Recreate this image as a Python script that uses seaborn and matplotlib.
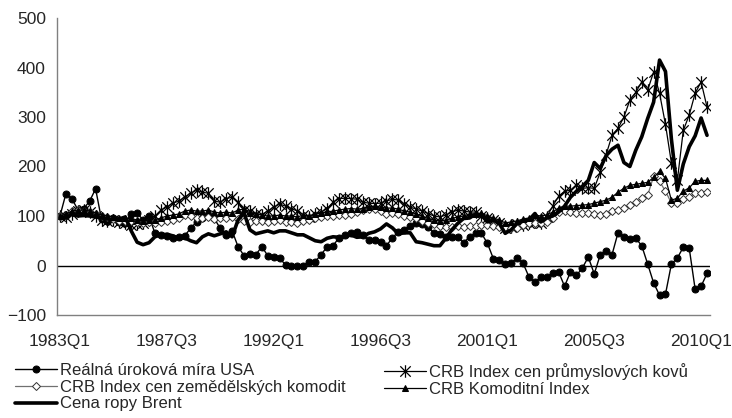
import numpy as np
import pandas as pd
import matplotlib
matplotlib.use('Agg')
import matplotlib.pyplot as plt
from matplotlib.path import Path
import seaborn as sns

# čtvrtletní řady 1983Q1 - 2010Q2, index 1983Q1 = 100
quarters = [f'{1983 + i // 4}Q{i % 4 + 1}' for i in range(110)]

realna_urokova_mira = [
    100, 145, 135, 113, 115, 130, 155, 93, 90, 95, 88, 85,
    105, 106, 92, 100, 65, 62, 60, 55, 58, 60, 75, 88,
    95, 100, 95, 75, 62, 70, 38, 20, 23, 22, 38, 20,
    17, 15, 1, 0, -2, 0, 8, 8, 22, 38, 40, 56,
    61, 65, 68, 61, 52, 52, 48, 40, 56, 68, 72, 80,
    86, 83, 78, 65, 63, 57, 58, 57, 46, 58, 65, 65,
    45, 14, 11, 3, 5, 15, 5, -23, -34, -23, -23, -16,
    -13, -42, -13, -20, -5, 17, -17, 21, 30, 22, 66, 58,
    53, 55, 40, 3, -35, -60, -58, 3, 15, 37, 35, -48,
    -42, -16,
]

kovy = [
    100, 98, 105, 110, 112, 108, 100, 92, 90, 92, 88, 86,
    82, 84, 86, 92, 100, 112, 118, 126, 130, 138, 146, 152,
    148, 146, 130, 128, 135, 138, 128, 112, 110, 105, 103, 110,
    118, 124, 120, 115, 110, 102, 98, 105, 108, 115, 128, 135,
    136, 135, 134, 128, 126, 125, 126, 130, 134, 132, 124, 118,
    114, 110, 105, 100, 98, 102, 108, 112, 110, 108, 108, 100,
    95, 92, 85, 76, 78, 84, 82, 85, 88, 86, 98, 120,
    140, 150, 152, 162, 156, 157, 156, 188, 224, 263, 277, 300,
    334, 350, 371, 354, 391, 348, 285, 207, 172, 273, 304, 348,
    371, 320,
]

zemedelske = [
    100, 102, 110, 112, 110, 108, 104, 100, 98, 94, 90, 90,
    90, 88, 86, 88, 86, 88, 90, 92, 95, 102, 100, 96,
    96, 97, 94, 95, 96, 97, 94, 90, 88, 90, 90, 88,
    90, 92, 88, 88, 86, 90, 92, 95, 98, 100, 100, 102,
    102, 104, 108, 112, 115, 114, 110, 105, 106, 105, 100, 97,
    95, 90, 86, 84, 80, 78, 78, 80, 78, 80, 80, 82,
    82, 80, 78, 78, 76, 76, 82, 86, 86, 85, 88, 96,
    108, 110, 108, 106, 106, 107, 105, 102, 104, 110, 112, 116,
    122, 128, 136, 142, 180, 170, 150, 126, 126, 134, 138, 146,
    146, 148,
]

crb = [
    100, 104, 110, 112, 112, 110, 106, 102, 100, 98, 95, 96,
    95, 92, 90, 92, 92, 96, 100, 102, 104, 110, 112, 110,
    110, 112, 108, 106, 108, 106, 112, 114, 106, 104, 102, 100,
    100, 102, 100, 100, 98, 102, 100, 104, 106, 108, 110, 112,
    114, 115, 114, 115, 118, 120, 118, 116, 116, 114, 110, 108,
    104, 100, 95, 92, 90, 92, 95, 98, 100, 104, 104, 106,
    100, 96, 92, 86, 88, 90, 94, 96, 102, 100, 102, 108,
    116, 120, 120, 121, 122, 123, 126, 129, 132, 138, 148, 156,
    162, 164, 166, 168, 178, 190, 176, 132, 136, 150, 157, 170,
    172, 172,
]

ropa_brent = [
    100, 96, 104, 100, 101, 100, 98, 96, 94, 93, 94, 98,
    70, 47, 42, 46, 58, 62, 63, 60, 55, 56, 50, 46,
    58, 64, 60, 64, 68, 58, 92, 106, 72, 64, 67, 70,
    66, 70, 70, 66, 62, 62, 56, 50, 48, 55, 58, 57,
    58, 62, 57, 58, 65, 68, 74, 84, 76, 64, 66, 66,
    48, 46, 43, 40, 40, 55, 72, 85, 95, 96, 104, 102,
    88, 92, 85, 65, 72, 85, 90, 92, 105, 88, 96, 100,
    108, 120, 138, 150, 160, 172, 208, 196, 222, 235, 243, 208,
    200, 233, 260, 297, 330, 415, 392, 255, 152, 205, 240, 262,
    298, 263,
]

tick_labels = ['1983Q1', '1987Q3', '1992Q1', '1996Q3', '2001Q1', '2005Q3', '2010Q1']

names = ['Reálná úroková míra USA', 'CRB Index cen průmyslových kovů',
         'CRB Index cen zemědělských komodit', 'CRB Komoditní Index',
         'Cena ropy Brent']

df = pd.DataFrame({'t': np.arange(len(quarters)),
                   names[0]: realna_urokova_mira, names[1]: kovy,
                   names[2]: zemedelske, names[3]: crb, names[4]: ropa_brent})

# hvezdicka jako v Excelu: X + svisla cara
star = Path([(-1, -1), (1, 1), (-1, 1), (1, -1), (0, -1.2), (0, 1.2)],
            [Path.MOVETO, Path.LINETO, Path.MOVETO, Path.LINETO, Path.MOVETO, Path.LINETO])

sns.set_style('white')
plt.rcParams['font.family'] = ['Liberation Sans', 'DejaVu Sans']

fig = plt.figure(figsize=(7.32, 4.18), dpi=100)
ax = fig.add_axes([57 / 732, 1 - 315 / 418, 653 / 732, 297 / 418])

ax.axhline(0, color='black', lw=1, zorder=1)

sns.lineplot(data=df, x='t', y=names[0], ax=ax, color='black', lw=1,
             marker='o', markersize=5, markeredgecolor='black', label=names[0])
sns.lineplot(data=df, x='t', y=names[1], ax=ax, color='black', lw=0.9,
             marker=star, markersize=9, markeredgecolor='black',
             markeredgewidth=0.9, label=names[1])
sns.lineplot(data=df, x='t', y=names[2], ax=ax, color='#707070', lw=0.9,
             marker='D', markersize=3.6, markerfacecolor='white',
             markeredgecolor='#303030', markeredgewidth=0.7, label=names[2])
sns.lineplot(data=df, x='t', y=names[3], ax=ax, color='black', lw=0.9,
             marker='^', markersize=5, markeredgecolor='black', label=names[3])
sns.lineplot(data=df, x='t', y=names[4], ax=ax, color='black', lw=2.6,
             label=names[4])

ax.set_xlim(-0.5, len(quarters) - 0.5)
ax.set_ylim(-100, 500)
ax.set_yticks(range(-100, 501, 100))
ax.set_xticks([i * 18 for i in range(len(tick_labels))])
ax.set_xticklabels(tick_labels)
ax.set_xticks([i * 18 - 0.5 for i in range(len(tick_labels))], minor=True)
ax.tick_params(axis='x', which='major', length=0, pad=14, labelsize=12.5)
ax.tick_params(axis='x', which='minor', length=5, direction='out', color='#808080', width=1)
ax.tick_params(axis='y', length=10, direction='inout', color='#808080', width=1,
               labelsize=12.5, pad=3)
ax.set_xlabel('')
ax.set_ylabel('')
for s in ['top', 'right']:
    ax.spines[s].set_visible(False)
for s in ['left', 'bottom']:
    ax.spines[s].set_color('#808080')
    ax.spines[s].set_linewidth(1)

handles, labels = ax.get_legend_handles_labels()
ax.get_legend().remove()
kw = dict(loc='upper left', frameon=False, borderpad=0, handlelength=2.5,
          handletextpad=0.2, labelspacing=0.1, fontsize=12, borderaxespad=0)
leg1 = fig.legend([handles[0], handles[2], handles[4]],
                  [labels[0], labels[2], labels[4]],
                  bbox_to_anchor=(15 / 732, 1 - 363 / 418), **kw)
leg2 = fig.legend([handles[1], handles[3]], [labels[1], labels[3]],
                  bbox_to_anchor=(384 / 732, 1 - 363 / 418), **kw)

fig.savefig('out.png', dpi=100)
